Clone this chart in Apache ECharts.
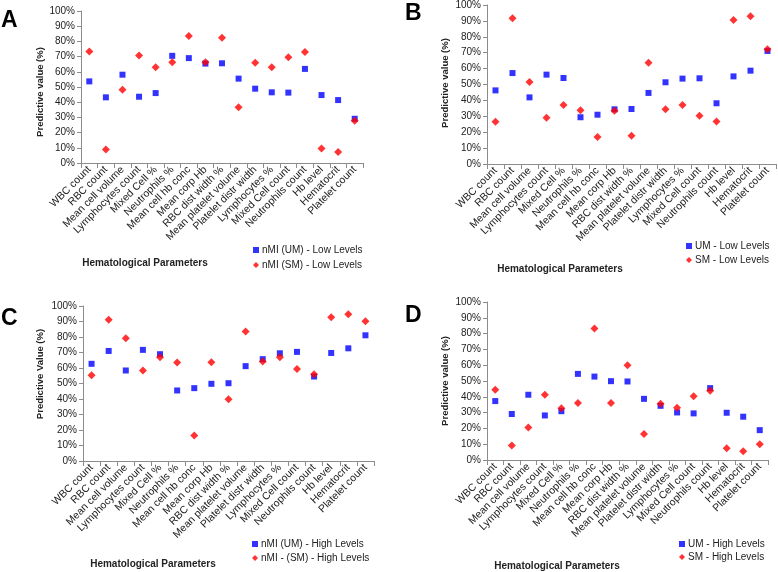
<!DOCTYPE html>
<html>
<head>
<meta charset="utf-8">
<script src="https://cdn.jsdelivr.net/npm/echarts@6/dist/echarts.min.js"></script>
<style>html,body{margin:0;padding:0;background:#fff}#c{width:778px;height:572px}</style>
</head>
<body>
<div id="c"></div>
<script>
const categories = ['WBC count','RBC count','Mean cell volume','Lymphocytes count','Mixed Cell %','Neutrophils %','Mean cell hb conc','Mean corp Hb','RBC dist width %','Mean platelet volume','Platelet distr width','Lymphocytes %','Mixed Cell count','Neutrophils count','Hb level','Hematocrit','Platelet count'];
const yTickLabels = ['0%','10%','20%','30%','40%','50%','60%','70%','80%','90%','100%'];

// Panel A (Low levels, nMI)
const aUM = [53.7,43.2,58.1,43.6,46.0,70.5,69.0,65.4,65.6,55.5,48.9,46.5,46.3,61.9,44.7,41.4,29.1];
const aSM = [73.3,8.8,48.2,70.7,63.0,66.3,83.5,66.3,82.4,36.6,65.9,63.0,69.6,73.1,9.5,7.3,27.8];
// Panel B (Low levels)
const bUM = [46.3,57.2,41.9,56.2,54.1,29.4,31.0,34.4,34.6,44.7,51.4,53.7,53.9,38.2,55.1,58.7,71.1];
const bSM = [26.6,91.6,51.6,29.1,37.1,33.8,17.0,33.5,17.8,63.7,34.4,37.1,30.4,26.8,90.6,92.9,72.1];
// Panel C (High levels, nMI)
const cUM = [62.7,71.0,58.4,71.7,68.9,45.5,47.0,49.8,50.2,61.2,65.7,69.5,70.4,54.5,69.7,72.7,81.1];
const cSM = [55.4,91.2,79.2,58.4,67.0,63.5,16.5,63.7,39.9,83.5,64.2,67.0,59.4,56.0,92.7,94.6,90.1];
// Panel D (High levels)
const dUM = [37.3,29.1,41.3,28.2,30.9,54.5,52.8,49.9,49.7,38.7,34.3,30.1,29.5,45.5,29.9,27.4,18.9];
const dSM = [44.4,9.1,20.6,41.3,32.8,36.0,83.2,36.0,60.0,16.4,35.6,33.1,40.4,43.8,7.4,5.5,9.9];

const seriesNames = [
  ['nMI (UM) - Low Levels','nMI (SM) - Low Levels'],
  ['UM - Low Levels','SM - Low Levels'],
  ['nMI (UM) - High Levels','nMI - (SM) - High Levels'],
  ['UM - High Levels','SM - High Levels']
];
const panelData = [[aUM,aSM],[bUM,bSM],[cUM,cSM],[dUM,dSM]];
const panelLetters = ['A','B','C','D'];
const yTitles = ['Predictive value (%)','Predictive value (%)','Predictive Value (%)','Predictive value (%)'];
const xTitle = 'Hematological Parameters';

const FONT = '"Liberation Sans", Arial, sans-serif';
const AX = '#8c8c8c';
const TXT = '#222';

const grids = [
  {left:81, top:11, width:282, height:152},
  {left:487, top:5, width:289, height:159},
  {left:83, top:306, width:291, height:155},
  {left:487, top:302, width:281, height:158}
];
const legendPos = [
  {left:253, top:245, itemGap:5},
  {left:686, top:241, itemGap:4},
  {left:252, top:539, itemGap:4},
  {left:679, top:539, itemGap:3}
];
const letterPos = [[1,9],[405,2],[1,307],[405,304]];
const yTitlePos = [[40,92],[445,83],[40,374],[445,381]];
const xTitlePos = [[145,263],[560,269],[153,564],[557,566]];

const xAxes = [], yAxes = [], series = [], legends = [], graphics = [];
for (let i = 0; i < 4; i++) {
  xAxes.push({
    type:'category', gridIndex:i, data:categories, boundaryGap:true,
    axisLine:{lineStyle:{color:AX, width:1}},
    axisTick:{show:true, length:5, lineStyle:{color:AX}, interval:0},
    axisLabel:{interval:0, rotate:45, fontSize:10.5, color:TXT, fontFamily:FONT, margin:5}
  });
  yAxes.push({
    type:'value', gridIndex:i, min:0, max:100, interval:10,
    axisLine:{show:true, lineStyle:{color:AX, width:1}},
    axisTick:{show:true, length:4, lineStyle:{color:AX}},
    splitLine:{show:false},
    axisLabel:{fontSize:10, color:TXT, fontFamily:FONT, margin:6,
      formatter:(v)=>yTickLabels[Math.round(v/10)]}
  });
  series.push({
    name:seriesNames[i][0], type:'scatter', xAxisIndex:i, yAxisIndex:i,
    data:panelData[i][0], symbol:'rect', symbolSize:6,
    itemStyle:{color:'#0000FF'}, z:2
  });
  series.push({
    name:seriesNames[i][1], type:'scatter', xAxisIndex:i, yAxisIndex:i,
    data:panelData[i][1], symbol:'diamond', symbolSize:8,
    itemStyle:{color:'#FF0000'}, z:3
  });
  legends.push(Object.assign({
    orient:'vertical', data:seriesNames[i], itemWidth:6, itemHeight:6,
    padding:0, selectedMode:false,
    textStyle:{fontSize:10, color:TXT, fontFamily:FONT, padding:[0,0,0,-2]}
  }, legendPos[i]));
  graphics.push({type:'text', left:letterPos[i][0], top:letterPos[i][1],
    style:{text:panelLetters[i], font:'bold 23px '+FONT, fill:'#000'}});
  graphics.push({type:'text', x:yTitlePos[i][0], y:yTitlePos[i][1], rotation:Math.PI/2,
    style:{text:yTitles[i], font:'bold 9.5px '+FONT, fill:TXT, align:'center', verticalAlign:'middle'}});
  graphics.push({type:'text', x:xTitlePos[i][0], y:xTitlePos[i][1],
    style:{text:xTitle, font:'bold 10px '+FONT, fill:TXT, align:'center', verticalAlign:'middle'}});
}

const chart = echarts.init(document.getElementById('c'), null, {renderer:'canvas'});
chart.setOption({
  animation:false,
  backgroundColor:'#fff',
  textStyle:{fontFamily:FONT},
  grid:grids, xAxis:xAxes, yAxis:yAxes, series:series, legend:legends, graphic:graphics
});
</script>
</body>
</html>
